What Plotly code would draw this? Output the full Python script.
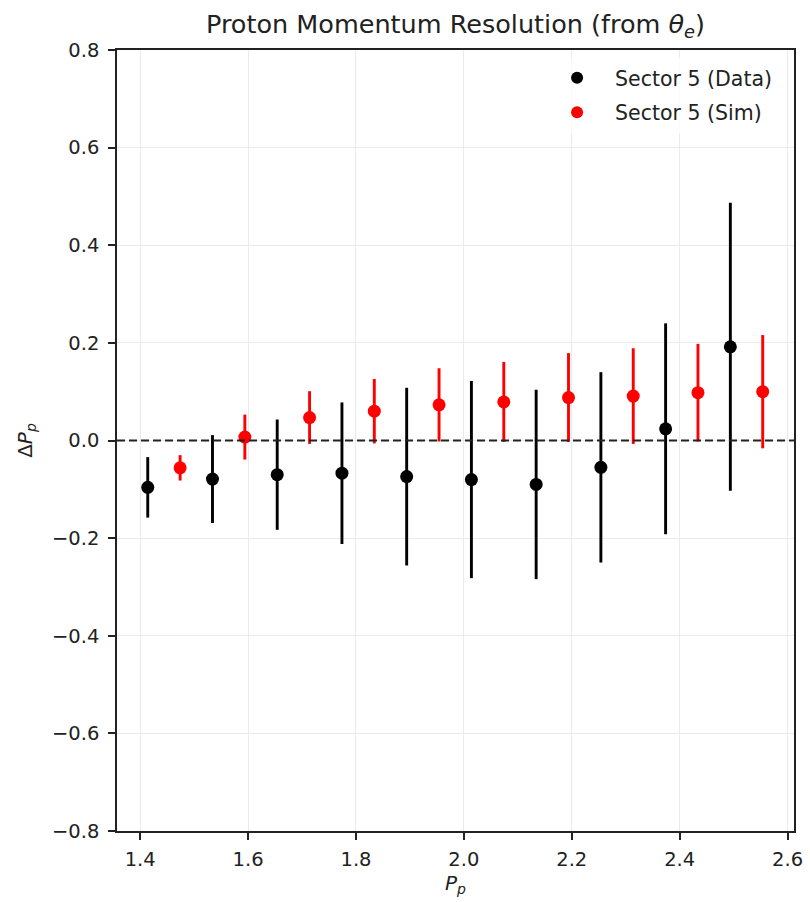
import plotly.graph_objects as go

# Bin centres (GeV) for each sample
p_data = [1.414, 1.534, 1.654, 1.774, 1.894, 2.014, 2.134, 2.254, 2.374, 2.494]
p_sim = [1.474, 1.594, 1.714, 1.834, 1.954, 2.074, 2.194, 2.314, 2.434, 2.554]

# Mean momentum difference and its spread per bin
dp_data = [-0.096, -0.079, -0.070, -0.067, -0.074, -0.080, -0.090, -0.055, 0.024, 0.192]
err_data = [0.062, 0.090, 0.113, 0.145, 0.182, 0.202, 0.194, 0.195, 0.216, 0.295]
dp_sim = [-0.056, 0.007, 0.047, 0.060, 0.073, 0.079, 0.088, 0.091, 0.098, 0.100]
err_sim = [0.026, 0.046, 0.054, 0.066, 0.075, 0.082, 0.091, 0.098, 0.100, 0.116]

x_ticks = [1.4, 1.6, 1.8, 2.0, 2.2, 2.4, 2.6]
y_ticks = [-0.8, -0.6, -0.4, -0.2, 0.0, 0.2, 0.4, 0.6, 0.8]

font = "DejaVu Sans, Verdana, sans-serif"

fig = go.Figure()
fig.add_trace(go.Scatter(
    x=p_data, y=dp_data, mode="markers", name="Sector 5 (Data)", legendgroup="data",
    marker=dict(color="black", size=13),
    error_y=dict(type="data", array=err_data, color="black", thickness=2.9, width=0),
))
fig.add_trace(go.Scatter(
    x=p_sim, y=dp_sim, mode="markers", name="Sector 5 (Sim)", legendgroup="sim",
    marker=dict(color="#ff0000", size=13),
    error_y=dict(type="data", array=err_sim, color="#ff0000", thickness=2.9, width=0),
))

# Zero reference line
fig.add_shape(type="line", xref="paper", x0=0, x1=1, yref="y", y0=0, y1=0,
              line=dict(color="#222222", width=1.8, dash="8px,4px"))

axis_common = dict(
    showline=True, linecolor="#222222", linewidth=1.5, mirror=True,
    ticks="outside", ticklen=7, tickwidth=1.5, tickcolor="#222222",
    showgrid=True, gridcolor="#ebebeb", gridwidth=1.3, zeroline=False,
    automargin=False,
    tickfont=dict(family=font, size=19.5, color="#222222"),
)

fig.update_layout(
    width=810, height=902,
    margin=dict(l=117, r=16, t=50, b=71),
    paper_bgcolor="white", plot_bgcolor="white",
    font=dict(family=font, color="#222222"),
    title=dict(text="Proton Momentum Resolution (from <i>θ</i><sub><i>e</i></sub>)",
               x=0.5, xanchor="center", xref="paper",
               yref="container", y=1 - 24 / 902, yanchor="middle",
               font=dict(family=font, size=25.5, color="#222222")),
    xaxis=dict(range=[1.357, 2.612], tickvals=x_ticks, tickformat=".1f",
               ticklabelstandoff=3,
               title=dict(text="<i>P</i><sub><i>p</i></sub>", standoff=6,
                          font=dict(family=font, size=20)),
               **axis_common),
    yaxis=dict(range=[-0.8, 0.8], tickvals=y_ticks, tickformat=".1f",
               ticklabelstandoff=5,
               title=dict(text="Δ<i>P</i><sub><i>p</i></sub>", standoff=14,
                          font=dict(family=font, size=20)),
               **axis_common),
    legend=dict(x=0.975, y=0.99, xanchor="right", yanchor="top",
                bgcolor="rgba(255,255,255,0.8)", borderwidth=0,
                font=dict(family=font, size=20.5, color="#222222"),
                itemsizing="constant", itemwidth=66, tracegroupgap=5),
    showlegend=True,
)

fig.write_html("out.html")
